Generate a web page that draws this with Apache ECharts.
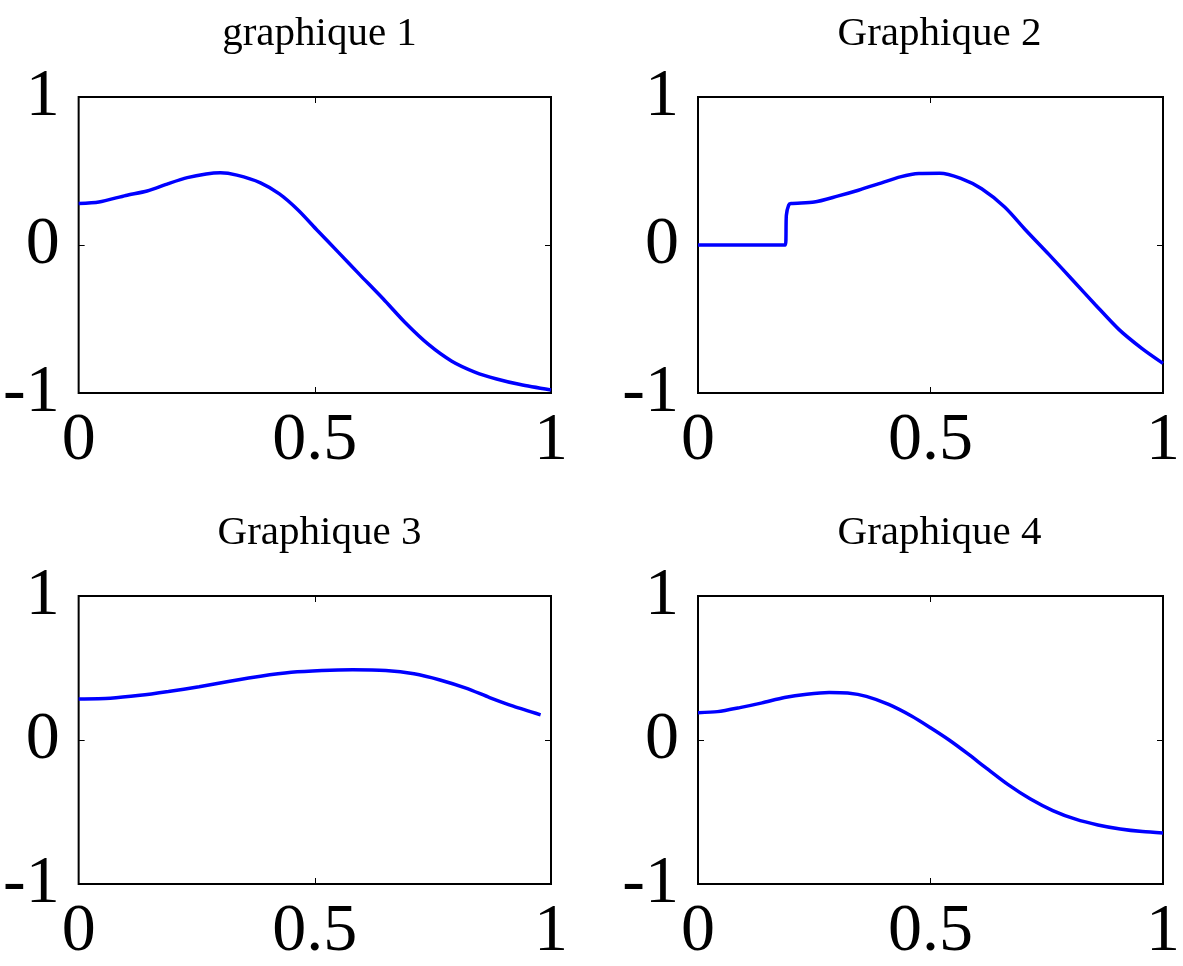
<!DOCTYPE html>
<html>
<head>
<meta charset="utf-8">
<title>graphiques</title>
<script src="https://cdn.jsdelivr.net/npm/echarts@6/dist/echarts.min.js"></script>
<style>
    html, body { margin: 0; padding: 0; background: #fff; overflow: hidden; }
    #main { position: absolute; left: 0; top: 0; width: 1183px; height: 966px; }
</style>
</head>
<body>
<div id="main"></div>
<script>
// titres des 4 sous-graphiques
var titles = ['graphique 1', 'Graphique 2', 'Graphique 3', 'Graphique 4'];
var xTicks = [0, 0.5, 1];
var yTicks = [-1, 0, 1];

// graphique 1
var t1 = [0, 0.043, 0.10, 0.145, 0.19, 0.23, 0.27, 0.30, 0.335, 0.385, 0.425, 0.465, 0.505, 0.55, 0.595, 0.645, 0.69, 0.74, 0.79, 0.84, 0.885, 0.935, 1.0];
var y1 = [0.28, 0.29, 0.335, 0.365, 0.415, 0.455, 0.48, 0.488, 0.472, 0.42, 0.345, 0.235, 0.10, -0.05, -0.20, -0.365, -0.52, -0.67, -0.785, -0.86, -0.905, -0.943, -0.98];

// graphique 2
var t2 = [0, 0.10, 0.18, 0.188, 0.19, 0.195, 0.2, 0.25, 0.30, 0.345, 0.395, 0.435, 0.475, 0.52, 0.565, 0.61, 0.66, 0.705, 0.755, 0.805, 0.855, 0.905, 0.955, 1.0];
var y2 = [0, 0, 0, 0, 0.2, 0.27, 0.28, 0.29, 0.33, 0.37, 0.42, 0.46, 0.483, 0.485, 0.45, 0.38, 0.255, 0.10, -0.065, -0.235, -0.405, -0.57, -0.70, -0.80];

// graphique 3
var t3 = [0, 0.067, 0.13, 0.19, 0.255, 0.32, 0.385, 0.45, 0.515, 0.58, 0.65, 0.71, 0.765, 0.82, 0.87, 0.92, 0.978];
var y3 = [0.285, 0.29, 0.31, 0.337, 0.37, 0.408, 0.443, 0.47, 0.483, 0.488, 0.483, 0.46, 0.417, 0.36, 0.295, 0.235, 0.175];

// graphique 4
var t4 = [0, 0.042, 0.09, 0.138, 0.186, 0.234, 0.282, 0.322, 0.362, 0.41, 0.46, 0.5, 0.54, 0.58, 0.62, 0.667, 0.715, 0.763, 0.812, 0.86, 0.908, 0.956, 1.0];
var y4 = [0.19, 0.197, 0.225, 0.258, 0.295, 0.318, 0.33, 0.326, 0.303, 0.247, 0.165, 0.085, 0.0, -0.095, -0.195, -0.31, -0.41, -0.49, -0.55, -0.59, -0.618, -0.636, -0.645];

var curves = [[t1, y1], [t2, y2], [t3, y3], [t4, y4]];

// position des cadres (px)
var boxes = [
    {left: 78, top: 97},
    {left: 698, top: 97},
    {left: 78, top: 596},
    {left: 698, top: 596}
];
var boxW = 473, boxH = 296;
var serif = 'Liberation Serif, Times New Roman, serif';

var chart = echarts.init(document.getElementById('main'));

var grids = [], xAxes = [], yAxes = [], series = [], titleList = [];
var tick = {show: true, inside: true, length: 6, lineStyle: {color: '#000', width: 1}};
var noLine = {show: false, onZero: false};

for (var i = 0; i < 4; i++) {
    var b = boxes[i];
    grids.push({
        left: b.left, top: b.top, width: boxW, height: boxH,
        show: true, borderColor: '#000', borderWidth: 2,
        backgroundColor: 'transparent'
    });
    titleList.push({
        text: titles[i],
        left: b.left + boxW / 2,
        top: b.top - 88,
        textAlign: 'center',
        textStyle: {fontFamily: serif, fontSize: 41, fontWeight: 'normal', color: '#000'}
    });
    // axes du bas / gauche avec labels
    xAxes.push({
        type: 'value', gridIndex: i, position: 'bottom',
        min: xTicks[0], max: xTicks[xTicks.length - 1], interval: xTicks[1] - xTicks[0],
        splitLine: {show: false}, axisLine: noLine, axisTick: tick,
        axisLabel: {fontFamily: serif, fontSize: 68, color: '#000', margin: 14}
    });
    yAxes.push({
        type: 'value', gridIndex: i, position: 'left',
        min: yTicks[0], max: yTicks[yTicks.length - 1], interval: yTicks[1] - yTicks[0],
        splitLine: {show: false}, axisLine: noLine, axisTick: tick,
        axisLabel: {fontFamily: serif, fontSize: 68, color: '#000', margin: 19}
    });
}
// ticks du haut / droite, sans labels
for (var j = 0; j < 4; j++) {
    xAxes.push({
        type: 'value', gridIndex: j, position: 'top',
        min: xTicks[0], max: xTicks[xTicks.length - 1], interval: xTicks[1] - xTicks[0],
        splitLine: {show: false}, axisLine: noLine, axisTick: tick,
        axisLabel: {show: false}
    });
    yAxes.push({
        type: 'value', gridIndex: j, position: 'right',
        min: yTicks[0], max: yTicks[yTicks.length - 1], interval: yTicks[1] - yTicks[0],
        splitLine: {show: false}, axisLine: noLine, axisTick: tick,
        axisLabel: {show: false}
    });
}

for (var k = 0; k < 4; k++) {
    var pts = [];
    for (var n = 0; n < curves[k][0].length; n++) {
        pts.push([curves[k][0][n], curves[k][1][n]]);
    }
    series.push({
        type: 'line',
        xAxisIndex: k, yAxisIndex: k,
        data: pts,
        showSymbol: false,
        smooth: 0.25,
        lineStyle: {color: '#0000ff', width: 3.5},
        itemStyle: {color: '#0000ff'},
        animation: false
    });
}

var option = {
    backgroundColor: '#fff',
    animation: false,
    title: titleList,
    grid: grids,
    xAxis: xAxes,
    yAxis: yAxes,
    series: series
};
chart.setOption(option);
</script>
</body>
</html>
